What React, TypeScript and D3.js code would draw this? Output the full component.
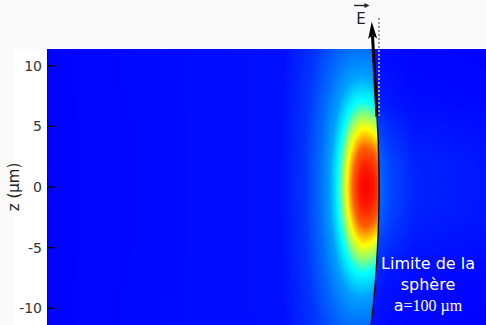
import React, { useMemo } from "react";
import * as d3 from "d3";

const W = 486;
const H = 325;

// axis
const yTicks = [10, 5, 0, -5, -10];
const yLabel = "z (µm)";
const fieldLabel = "E";
const noteLines = ["Limite de la", "sphère"];
const noteLast = ["a", "=100 µm"];

// sphere radius (µm)
const sphereRadius = 100;

// hot spot: centre offset from the sphere edge (µm) and elliptical scales
const spotOffset = -1.1;
const spotScaleLeft = 1.0;
const spotScaleRight = 1.3;
const spotScaleZ = 3.1;

// radial intensity profile of the spot (normalised radius -> intensity)
const radialR = [0, 0.5, 1.04, 1.54, 1.95, 2.28, 2.94, 3.76, 5, 7, 30];
const radialI = [1, 0.97, 0.88, 0.67, 0.5, 0.34, 0.21, 0.14, 0.07, 0.02, 0];

// outside the sphere: fraction of the edge intensity vs distance (µm)
const outsideD = [0, 1, 3, 9];
const outsideK = [0.15, 0.1, 0.05, 0.03];

// arrow (field vector) along sphere edge, µm
const arrowTailZ = 5.8;
const arrowTip = { x: -0.6, z: 13.63 };
const dottedRange = [5.8, 13.93];
const edgeRange = [-11.6, 5.8];

const jetStops = ["#0000ff", "#00ffff", "#ffff00", "#ff0000"];

const plot = { left: 48, top: 49, right: 486, bottom: 325 };

const y = d3.scaleLinear().domain([-10, 10]).range([308.3, 65.7]);
const x = d3.scaleLinear().domain([-10, 0]).range([379 - 121.3, 379]);

const edgeX = (z: number) => Math.sqrt(sphereRadius * sphereRadius - z * z) - sphereRadius;

export default function App() {
  const pw = plot.right - plot.left;
  const ph = plot.bottom - plot.top;

  const img = useMemo(() => {
    const canvas = document.createElement("canvas");
    canvas.width = pw;
    canvas.height = ph;
    const ctx = canvas.getContext("2d");
    if (!ctx) return "";
    const id = ctx.createImageData(pw, ph);
    const radial = d3.scaleLinear().domain(radialR).range(radialI).clamp(true);
    const outside = d3.scaleLinear().domain(outsideD).range(outsideK).clamp(true);
    const cmap = d3
      .scaleLinear<string>()
      .domain([0, 1 / 3, 2 / 3, 1])
      .range(jetStops)
      .clamp(true);
    const lut: d3.RGBColor[] = [];
    for (let k = 0; k <= 1000; k++) lut.push(d3.rgb(cmap(k / 1000)));
    const spot = (d: number, z: number) => {
      const dd = d - spotOffset;
      const sx = dd < 0 ? spotScaleLeft : spotScaleRight;
      const r = Math.hypot(dd / sx, z / spotScaleZ);
      return radial(r);
    };
    for (let j = 0; j < ph; j++) {
      const z = y.invert(plot.top + j + 0.5);
      const xb = edgeX(z);
      const edgeVal = spot(0, z);
      for (let i = 0; i < pw; i++) {
        const xu = x.invert(plot.left + i + 0.5);
        const d = xu - xb;
        const v = d <= 0 ? spot(d, z) : edgeVal * outside(d);
        const c = lut[Math.max(0, Math.min(1000, Math.round(v * 1000)))];
        const o = (j * pw + i) * 4;
        id.data[o] = c.r;
        id.data[o + 1] = c.g;
        id.data[o + 2] = c.b;
        id.data[o + 3] = 255;
      }
    }
    ctx.putImageData(id, 0, 0);
    return canvas.toDataURL();
  }, []);

  const edgePts: [number, number][] = d3
    .range(edgeRange[0], edgeRange[1] + 0.001, 0.1)
    .map((z) => [x(edgeX(z)), y(z)]);
  const edgePath = d3.line()(edgePts) || "";

  const tail = [x(edgeX(arrowTailZ)), y(arrowTailZ)];
  const tip = [x(arrowTip.x), y(arrowTip.z)];
  const dx = tip[0] - tail[0];
  const dy = tip[1] - tail[1];
  const len = Math.hypot(dx, dy);
  const ux = dx / len;
  const uy = dy / len;
  const headL = 17;
  const headW = 4.5;
  const base = [tip[0] - ux * headL, tip[1] - uy * headL];
  const head = [
    tip,
    [base[0] - uy * headW, base[1] + ux * headW],
    [tip[0] - ux * headL * 0.8, tip[1] - uy * headL * 0.8],
    [base[0] + uy * headW, base[1] - ux * headW],
  ];

  const font = "'DejaVu Sans', sans-serif";

  return (
    <svg
      width={W}
      height={H}
      style={{ position: "absolute", left: 0, top: 0, display: "block" }}
    >
      <rect width={W} height={H} fill="#fafafa" />
      <rect x={13} y={plot.top} width={plot.left - 13} height={ph} fill="#ffffff" />
      <image
        href={img}
        x={plot.left}
        y={plot.top}
        width={pw}
        height={ph}
        preserveAspectRatio="none"
      />
      <line x1={plot.left - 0.5} x2={plot.left - 0.5} y1={plot.top} y2={plot.bottom} stroke="#111133" strokeWidth={1} />
      {yTicks.map((t) => (
        <g key={t}>
          <line x1={plot.left} x2={plot.left + 7} y1={y(t)} y2={y(t)} stroke="#000" strokeWidth={1.2} />
          <text
            x={42}
            y={y(t)}
            dy="0.36em"
            textAnchor="end"
            fontFamily={font}
            fontSize={14}
            fill="#333"
          >
            {t}
          </text>
        </g>
      ))}
      <text
        transform={`translate(19,${y(0)}) rotate(-90)`}
        textAnchor="middle"
        fontFamily={font}
        fontSize={15}
        fill="#222"
      >
        {yLabel}
      </text>

      {/* dotted vertical at sphere edge */}
      <line
        x1={x(0)}
        x2={x(0)}
        y1={y(dottedRange[1])}
        y2={y(dottedRange[0])}
        stroke="#a0a0a0"
        strokeWidth={2}
        strokeDasharray="2 2"
      />
      {/* sphere edge */}
      <path d={edgePath} fill="none" stroke="#000" strokeWidth={1.3} />
      {/* field arrow */}
      <line x1={tail[0]} y1={tail[1]} x2={base[0] + ux * 3} y2={base[1] + uy * 3} stroke="#000" strokeWidth={3} />
      <polygon points={head.map((p) => p.join(",")).join(" ")} fill="#000" />

      {/* E label with vector arrow */}
      <text x={361} y={24} textAnchor="middle" fontFamily={font} fontSize={15} fill="#222">
        {fieldLabel}
      </text>
      <line x1={354} x2={366} y1={5.5} y2={5.5} stroke="#222" strokeWidth={1.4} />
      <polygon points="369.5,5.5 364.5,3 364.5,8" fill="#222" />

      {/* note */}
      {noteLines.map((s, k) => (
        <text key={s} x={428} y={269 + k * 21} textAnchor="middle" fontFamily={font} fontSize={16} fill="#fff">
          {s}
        </text>
      ))}
      <text x={428} y={311} textAnchor="middle" fontFamily={font} fontSize={16} fill="#fff">
        <tspan>{noteLast[0]}</tspan>
        <tspan fontFamily="'Liberation Serif', 'DejaVu Serif', serif">{noteLast[1]}</tspan>
      </text>
    </svg>
  );
}
